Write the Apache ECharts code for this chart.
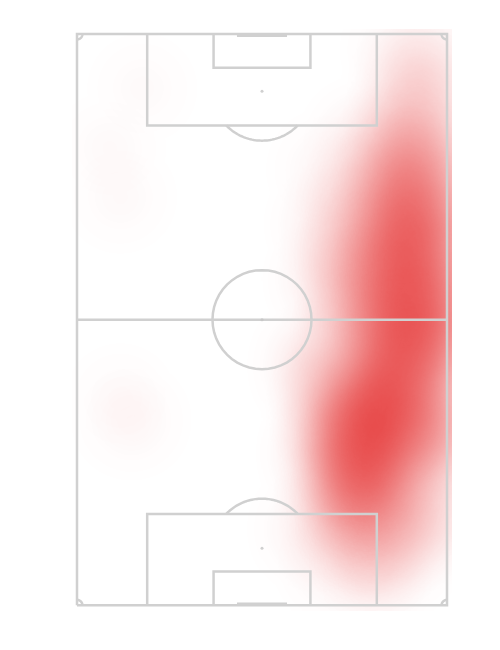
<!DOCTYPE html>
<html>
<head>
<meta charset="utf-8">
<script src="https://cdn.jsdelivr.net/npm/echarts@6/dist/echarts.min.js"></script>
<style>
  html, body { margin: 0; padding: 0; background: #fff; }
  #chart { width: 500px; height: 650px; }
</style>
</head>
<body>
<div id="chart"></div>
<script>
// pitch in metres: x across (0 = left touchline), y along (0 = bottom goal line)
const pitchWidth = 68;
const pitchLength = 105;
const boxHalf = 21.1, boxDepth = 16.8;
const sixHalf = 8.9, sixDepth = 6.2;
const spotDist = 10.5, circleR = 9.1, goalHalf = 4.6, cornerR = 1;

// touch positions (metres) and their weight
const touchX = [60, 61, 61, 60, 60, 60, 60, 60, 60,
  65.5, 65.5, 65.5, 65.5, 65.5, 66,
  53, 53, 53, 53, 47, 47, 46,
  61, 58, 56, 54.5, 53.5, 53, 53, 54, 55,
  48, 47, 49, 45, 62, 63, 62, 65, 44,
  58, 63, 48, 66, 52,
  10, 8, 6, 8, 12];
const touchY = [102, 96, 90, 84, 78, 72, 66, 60, 54,
  90, 80, 70, 60, 52, 100,
  85, 75, 65, 57, 70, 60, 80,
  50, 45, 39, 33, 27, 21, 15, 9, 4,
  36, 28, 20, 44, 36, 28, 20, 44, 14,
  10, 15, 8, 32, 50,
  34, 38, 84, 75, 95];
const touchW = [0.08, 0.12, 0.18, 0.30, 0.44, 0.55, 0.65, 0.65, 0.60,
  0.12, 0.30, 0.45, 0.45, 0.45, 0.10,
  0.12, 0.25, 0.35, 0.35, 0.15, 0.18, 0.06,
  0.55, 0.65, 0.80, 0.90, 0.80, 0.55, 0.30, 0.12, 0.06,
  0.45, 0.40, 0.30, 0.25, 0.45, 0.30, 0.20, 0.40, 0.12,
  0.15, 0.20, 0.10, 0.30, 0.30,
  0.05, 0.03, 0.035, 0.035, 0.03];

const heatData = touchX.map((x, i) => [x, touchY[i], touchW[i]]);

function arc(cx, cy, r, a0, a1) {
  const pts = [];
  const n = 48;
  for (let i = 0; i <= n; i++) {
    const a = a0 + (a1 - a0) * i / n;
    pts.push([cx + r * Math.cos(a), cy + r * Math.sin(a)]);
  }
  return pts;
}

const W = pitchWidth, L = pitchLength, cx = W / 2;
const arcA = Math.asin((boxDepth - spotDist) / circleR);
const pitchLines = [
  [[0, 0], [W, 0], [W, L], [0, L], [0, 0]],
  [[0, L / 2], [W, L / 2]],
  [[cx - boxHalf, L], [cx - boxHalf, L - boxDepth], [cx + boxHalf, L - boxDepth], [cx + boxHalf, L]],
  [[cx - boxHalf, 0], [cx - boxHalf, boxDepth], [cx + boxHalf, boxDepth], [cx + boxHalf, 0]],
  [[cx - sixHalf, L], [cx - sixHalf, L - sixDepth], [cx + sixHalf, L - sixDepth], [cx + sixHalf, L]],
  [[cx - sixHalf, 0], [cx - sixHalf, sixDepth], [cx + sixHalf, sixDepth], [cx + sixHalf, 0]],
  [[cx - goalHalf, L - 0.3], [cx + goalHalf, L - 0.3]],
  [[cx - goalHalf, 0.3], [cx + goalHalf, 0.3]],
  arc(cx, L / 2, circleR, 0, Math.PI * 2),
  arc(cx, spotDist, circleR, arcA, Math.PI - arcA),
  arc(cx, L - spotDist, circleR, Math.PI + arcA, Math.PI * 2 - arcA),
  arc(0, 0, cornerR, 0, Math.PI / 2),
  arc(W, 0, cornerR, Math.PI / 2, Math.PI),
  arc(W, L, cornerR, Math.PI, Math.PI * 1.5),
  arc(0, L, cornerR, Math.PI * 1.5, Math.PI * 2)
];
const spots = [[cx, spotDist], [cx, L - spotDist], [cx, L / 2]];

echarts.registerMap('pitch', {
  type: 'FeatureCollection',
  features: [{
    type: 'Feature',
    properties: { name: 'pitch' },
    geometry: { type: 'Polygon', coordinates: [[[-1, -1], [W + 1, -1], [W + 1, L + 1], [-1, L + 1], [-1, -1]]] }
  }]
});

const s = 370 / W;
const chart = echarts.init(document.getElementById('chart'));
chart.setOption({
  animation: false,
  backgroundColor: '#fff',
  geo: {
    map: 'pitch',
    roam: false,
    left: 77 - s,
    top: 34 - s,
    width: (W + 2) * s,
    height: (L + 2) * s,
    silent: true,
    label: { show: false },
    itemStyle: { areaColor: 'rgba(0,0,0,0)', borderWidth: 0 },
    emphasis: { disabled: true }
  },
  visualMap: {
    show: false,
    seriesIndex: 0,
    min: 0,
    max: 1,
    inRange: { color: ['#e53535', '#e53535'] }
  },
  series: [
    {
      type: 'heatmap',
      coordinateSystem: 'geo',
      pointSize: 35,
      blurSize: 45,
      data: heatData
    },
    {
      type: 'lines',
      coordinateSystem: 'geo',
      polyline: true,
      silent: true,
      lineStyle: { color: '#d0d0d0', width: 2.5, opacity: 1 },
      data: pitchLines.map(c => ({ coords: c }))
    },
    {
      type: 'scatter',
      coordinateSystem: 'geo',
      silent: true,
      symbolSize: 3,
      itemStyle: { color: '#c4c4c4' },
      data: spots
    }
  ]
});
</script>
</body>
</html>
